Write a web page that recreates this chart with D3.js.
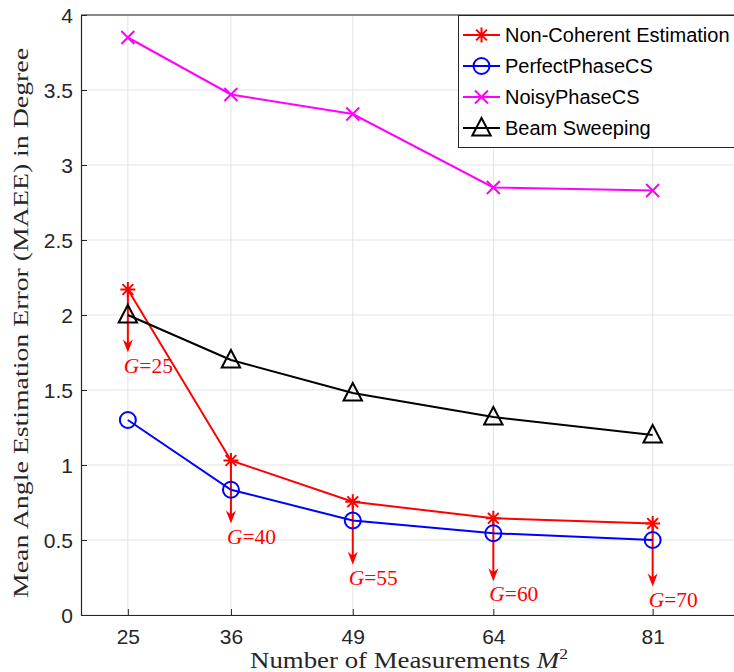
<!DOCTYPE html>
<html>
<head>
<meta charset="utf-8">
<script src="https://cdn.jsdelivr.net/npm/d3@7"></script>
<style>
  body { margin: 0; background: #fff; }
  svg { display: block; }
</style>
</head>
<body>
<div id="chart"></div>
<script>
// data
const measurements = [25, 36, 49, 64, 81];
const nonCoherent = [2.17, 1.03, 0.755, 0.645, 0.61];
const perfectPhase = [1.30, 0.835, 0.63, 0.545, 0.50];
const noisyPhase = [3.85, 3.47, 3.34, 2.85, 2.83];
const beamSweeping = [2.00, 1.70, 1.48, 1.32, 1.20];
const gridSizes = [25, 40, 55, 60, 70];
const yTicks = [0, 0.5, 1, 1.5, 2, 2.5, 3, 3.5, 4];

const width = 734, height = 672;
const plotLeft = 81, plotRight = 737, plotTop = 15, plotBottom = 615;

const svg = d3.select("#chart").append("svg")
  .attr("width", width)
  .attr("height", height);

const x = d3.scaleLinear().domain([20, 90]).range([plotLeft, plotRight]);
const y = d3.scaleLinear().domain([0, 4]).range([plotBottom, plotTop]);

// grid
svg.append("g").selectAll("line")
  .data(measurements).enter().append("line")
  .attr("x1", d => x(d)).attr("x2", d => x(d))
  .attr("y1", plotTop).attr("y2", plotBottom)
  .attr("stroke", "#e3e3e3").attr("stroke-width", 1);
svg.append("g").selectAll("line")
  .data(yTicks).enter().append("line")
  .attr("x1", plotLeft).attr("x2", plotRight)
  .attr("y1", d => y(d)).attr("y2", d => y(d))
  .attr("stroke", "#e3e3e3").attr("stroke-width", 1);

// axes (ticks pointing inward like matlab)
const xAxis = svg.append("g")
  .attr("transform", `translate(0,${plotBottom})`)
  .call(d3.axisBottom(x).tickValues(measurements).tickSizeInner(-6).tickSizeOuter(0).tickPadding(14));
const yAxis = svg.append("g")
  .attr("transform", `translate(${plotLeft},0)`)
  .call(d3.axisLeft(y).tickValues(yTicks).tickFormat(d3.format("")).tickSizeInner(-6).tickSizeOuter(0).tickPadding(8));
[xAxis, yAxis].forEach(a => {
  a.selectAll("path").attr("stroke", "#262626").attr("stroke-width", 1.2);
  a.selectAll("line").attr("stroke", "#262626");
  a.selectAll("text").attr("fill", "#262626")
    .style("font-family", "Liberation Sans, Arial, sans-serif")
    .style("font-size", "21px");
});
xAxis.selectAll("text").attr("dy", "0.71em");
yAxis.selectAll("text").attr("dy", "0.36em");

// top border of box
svg.append("line")
  .attr("x1", plotLeft).attr("x2", plotRight).attr("y1", plotTop).attr("y2", plotTop)
  .attr("stroke", "#262626").attr("stroke-width", 1.2);

// markers
function markerPath(type, s) {
  if (type === "star") {
    const d = s * 0.72;
    return `M${-s},0L${s},0M0,${-s}L0,${s}M${-d},${-d}L${d},${d}M${-d},${d}L${d},${-d}`;
  }
  if (type === "x") {
    return `M${-s},${-s}L${s},${s}M${-s},${s}L${s},${-s}`;
  }
  if (type === "circle") {
    return `M${s},0A${s},${s} 0 1,1 ${-s},0A${s},${s} 0 1,1 ${s},0Z`;
  }
  // triangle
  return `M0,${-s}L${s * 0.92},${s * 0.75}L${-s * 0.92},${s * 0.75}Z`;
}

const series = [
  { name: "Non-Coherent Estimation", values: nonCoherent, color: "#ff0000", marker: "star", size: 7.5 },
  { name: "PerfectPhaseCS", values: perfectPhase, color: "#0000ff", marker: "circle", size: 8 },
  { name: "NoisyPhaseCS", values: noisyPhase, color: "#ff00ff", marker: "x", size: 6.5 },
  { name: "Beam Sweeping", values: beamSweeping, color: "#000000", marker: "tri", size: 10 }
];

const line = d3.line().x(d => x(d[0])).y(d => y(d[1]));

// arrows with G labels (drawn under the series lines)
const arrowLen = 0.42;
const arrows = svg.append("g");
measurements.forEach((m, i) => {
  const x0 = x(m), y0 = y(nonCoherent[i]), y1 = y(nonCoherent[i] - arrowLen);
  arrows.append("line")
    .attr("x1", x0).attr("x2", x0).attr("y1", y0).attr("y2", y1 - 4)
    .attr("stroke", "#ff0000").attr("stroke-width", 2);
  arrows.append("path")
    .attr("d", `M${x0},${y1}L${x0 - 5},${y1 - 13}L${x0},${y1 - 9}L${x0 + 5},${y1 - 13}Z`)
    .attr("fill", "#ff0000");
  const t = arrows.append("text")
    .attr("x", x0 - 4).attr("y", y1 + 20)
    .attr("fill", "#ff0000")
    .style("font-family", "Liberation Serif, Times New Roman, serif")
    .style("font-size", "20px")
    .attr("textLength", 49)
    .attr("lengthAdjust", "spacingAndGlyphs");
  t.append("tspan").style("font-style", "italic").text("G");
  t.append("tspan").text("=" + gridSizes[i]);
});

series.forEach(s => {
  const pts = measurements.map((m, i) => [m, s.values[i]]);
  svg.append("path")
    .datum(pts)
    .attr("d", line)
    .attr("fill", "none")
    .attr("stroke", s.color)
    .attr("stroke-width", 2);
  svg.append("g").selectAll("path")
    .data(pts).enter().append("path")
    .attr("transform", d => `translate(${x(d[0])},${y(d[1])})`)
    .attr("d", markerPath(s.marker, s.size))
    .attr("fill", "none")
    .attr("stroke", s.color)
    .attr("stroke-width", 2);
});

// legend
const lg = svg.append("g");
lg.append("rect")
  .attr("x", 458.5).attr("y", 15.5).attr("width", 280).attr("height", 132)
  .attr("fill", "#fff").attr("stroke", "#262626").attr("stroke-width", 1);
series.forEach((s, i) => {
  const cy = 35 + i * 31;
  lg.append("line")
    .attr("x1", 463).attr("x2", 500).attr("y1", cy).attr("y2", cy)
    .attr("stroke", s.color).attr("stroke-width", 2);
  lg.append("path")
    .attr("transform", `translate(481.5,${cy})`)
    .attr("d", markerPath(s.marker, s.size))
    .attr("fill", "none").attr("stroke", s.color).attr("stroke-width", 2);
  lg.append("text")
    .attr("x", 505).attr("y", cy).attr("dy", "0.36em")
    .attr("fill", "#000")
    .style("font-family", "Liberation Sans, Arial, sans-serif")
    .style("font-size", "20px")
    .text(s.name);
});

// axis titles
const xt = svg.append("text")
  .attr("x", 250).attr("y", 668)
  .attr("fill", "#262626")
  .style("font-family", "Liberation Serif, Times New Roman, serif")
  .style("font-size", "23px")
  .attr("textLength", 318)
  .attr("lengthAdjust", "spacingAndGlyphs");
xt.append("tspan").text("Number of Measurements ");
xt.append("tspan").style("font-style", "italic").text("M");
xt.append("tspan").attr("dy", -9).style("font-size", "15px").text("2");

svg.append("text")
  .attr("transform", `translate(28,598) rotate(-90)`)
  .attr("fill", "#262626")
  .style("font-family", "Liberation Serif, Times New Roman, serif")
  .style("font-size", "21px")
  .attr("textLength", 550)
  .attr("lengthAdjust", "spacingAndGlyphs")
  .text("Mean Angle Estimation Error (MAEE) in Degree");
</script>
</body>
</html>
